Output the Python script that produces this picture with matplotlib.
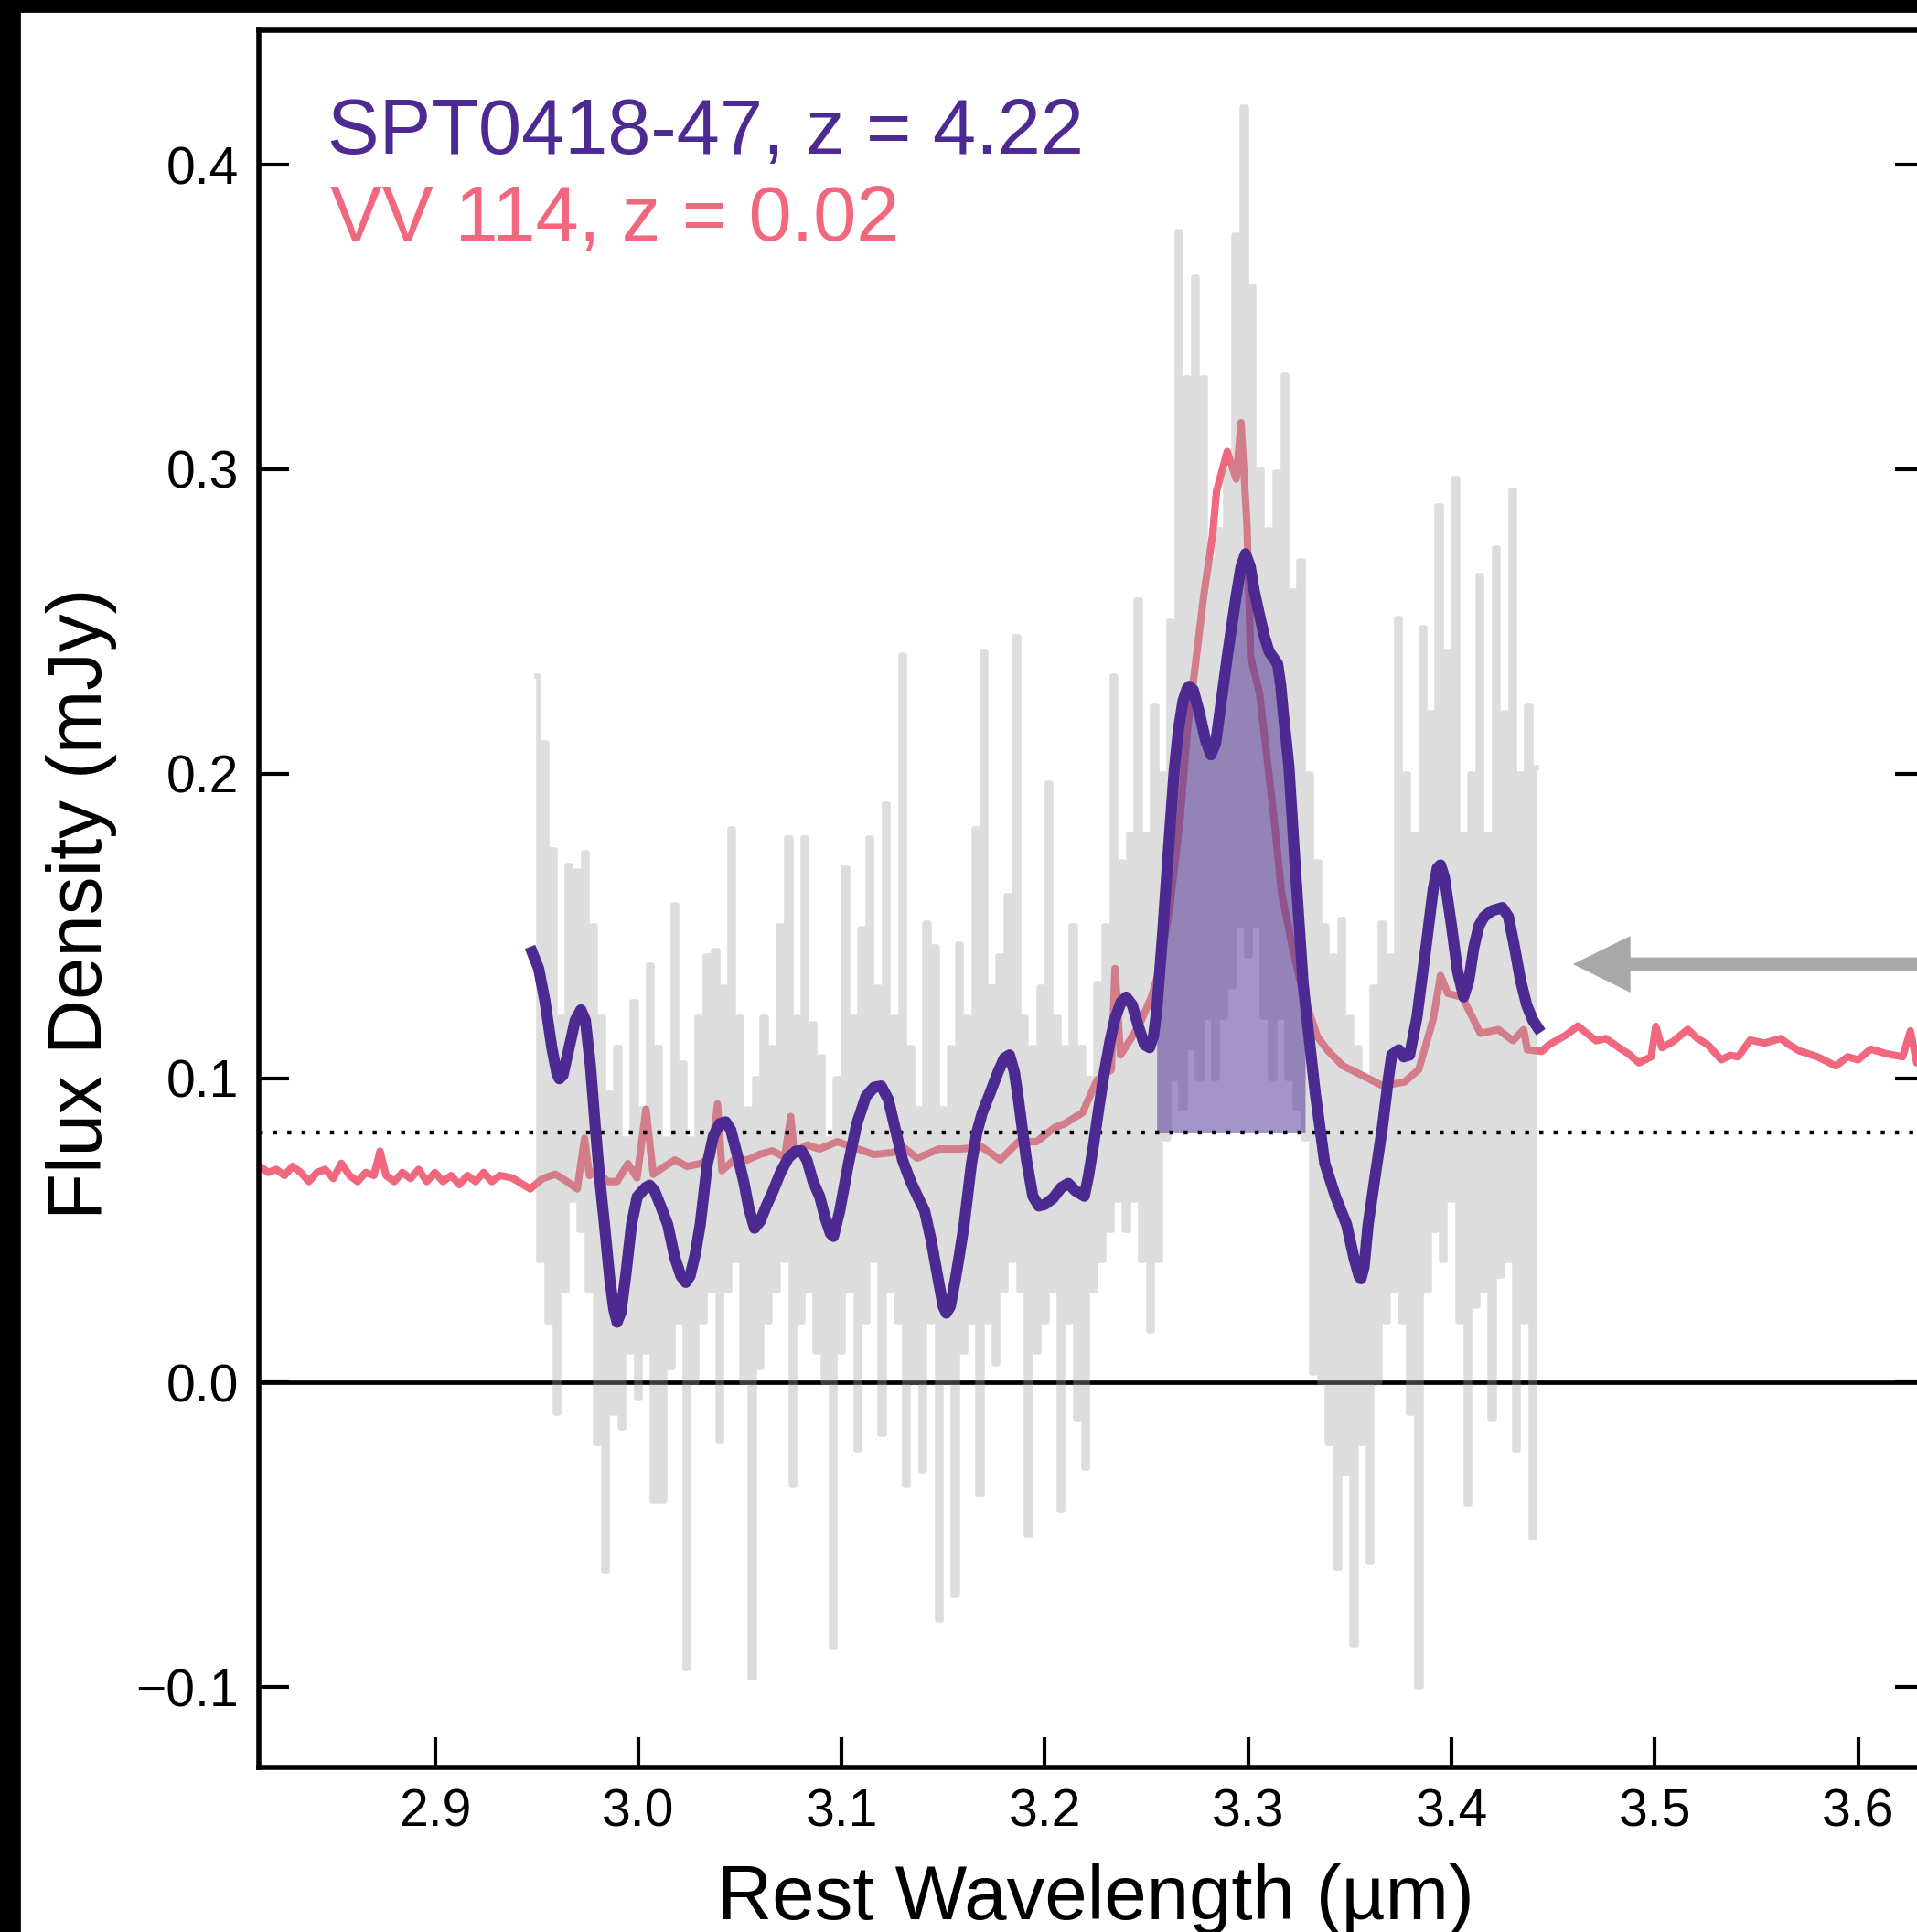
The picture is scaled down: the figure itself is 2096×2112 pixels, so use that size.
import numpy as np
import matplotlib
matplotlib.use("Agg")
import matplotlib.pyplot as plt
from matplotlib.patches import Rectangle

plt.rcParams['font.family'] = ['Liberation Sans', 'DejaVu Sans']

PURPLE = "#4C2A92"
PINK = "#F0677E"

# SPT0418-47 raw spectrum (grey), 0.002 um grid starting at 2.950
gray_flux = [
    0.232, 0.040, 0.210, 0.020, 0.175, -0.010, 0.120, 0.030, 0.170, 0.060,
    0.168, 0.050, 0.174, 0.030, 0.150, -0.020, 0.120, -0.062, 0.095, -0.010,
    0.110, -0.015, 0.080, 0.010, 0.125, -0.005, 0.090, 0.010, 0.137, -0.039,
    0.110, -0.039, 0.080, 0.005, 0.157, 0.020, 0.105, -0.094, 0.080, 0.000,
    0.120, 0.020, 0.140, 0.030, 0.142, -0.019, 0.130, 0.030, 0.182, 0.040,
    0.120, 0.000, 0.090, -0.097, 0.100, 0.005, 0.120, 0.020, 0.110, 0.030,
    0.150, 0.040, 0.179, -0.034, 0.120, 0.020, 0.179, 0.030, 0.118, 0.010,
    0.107, 0.000, 0.080, -0.087, 0.100, 0.010, 0.169, 0.030, 0.120, -0.022,
    0.149, 0.020, 0.179, 0.040, 0.130, -0.017, 0.190, 0.030, 0.120, 0.020,
    0.239, -0.034, 0.110, 0.000, 0.090, -0.029, 0.151, 0.020, 0.143, -0.078,
    0.090, 0.000, 0.110, -0.070, 0.144, 0.010, 0.120, 0.020, 0.182, -0.037,
    0.240, 0.020, 0.130, 0.006, 0.140, 0.030, 0.160, 0.040, 0.245, 0.030,
    0.120, -0.050, 0.110, 0.010, 0.130, 0.020, 0.197, 0.030, 0.120, -0.042,
    0.110, 0.020, 0.150, -0.012, 0.110, -0.028, 0.100, 0.030, 0.131, 0.040,
    0.150, 0.050, 0.232, 0.060, 0.171, 0.050, 0.180, 0.060, 0.257, 0.040,
    0.180, 0.017, 0.222, 0.040, 0.200, 0.080, 0.250, 0.100, 0.378, 0.090,
    0.330, 0.110, 0.363, 0.100, 0.330, 0.120, 0.270, 0.100, 0.280, 0.120,
    0.300, 0.130, 0.377, 0.150, 0.419, 0.140, 0.360, 0.150, 0.300, 0.120,
    0.280, 0.100, 0.299, 0.120, 0.331, 0.100, 0.260, 0.090, 0.270, 0.080,
    0.200, 0.003, 0.171, 0.000, 0.150, -0.020, 0.140, -0.061, 0.152, -0.030,
    0.120, -0.086, 0.110, -0.020, 0.100, -0.059, 0.130, 0.000, 0.151, 0.020,
    0.140, 0.030, 0.251, 0.020, 0.200, -0.010, 0.180, -0.100, 0.248, 0.030,
    0.220, 0.050, 0.288, 0.040, 0.240, 0.060, 0.297, 0.020, 0.180, -0.040,
    0.200, 0.025, 0.265, 0.030, 0.180, -0.012, 0.274, 0.035, 0.220, 0.040,
    0.293, -0.022, 0.200, 0.020, 0.222, -0.051, 0.202,
]
gray_wl = 2.950 + 0.002 * np.arange(len(gray_flux))

# SPT0418-47 smoothed spectrum (purple)
spt_wl = [
    2.9478, 2.9510, 2.9541, 2.9575, 2.9600, 2.9612, 2.9630, 2.9660, 2.9690, 2.9718,
    2.9740, 2.9765, 2.9789, 2.9812, 2.9834, 2.9860, 2.9880, 2.9896, 2.9915, 2.9940,
    2.9967, 2.9995, 3.0035, 3.0056, 3.0080, 3.0110, 3.0145, 3.0180, 3.0210, 3.0234,
    3.0255, 3.0280, 3.0305, 3.0340, 3.0370, 3.0400, 3.0430, 3.0455, 3.0490, 3.0519,
    3.0545, 3.0572, 3.0600, 3.0630, 3.0660, 3.0700, 3.0740, 3.0775, 3.0803, 3.0830,
    3.0860, 3.0892, 3.0920, 3.0945, 3.0960, 3.0990, 3.1034, 3.1075, 3.1120, 3.1160,
    3.1195, 3.1230, 3.1265, 3.1300, 3.1340, 3.1375, 3.1408, 3.1440, 3.1475, 3.1500,
    3.1515, 3.1535, 3.1560, 3.1580, 3.1603, 3.1639, 3.1665, 3.1692, 3.1730, 3.1770,
    3.1800, 3.1826, 3.1850, 3.1870, 3.1888, 3.1910, 3.1941, 3.1970, 3.2000, 3.2040,
    3.2080, 3.2115, 3.2150, 3.2194, 3.2215, 3.2239, 3.2265, 3.2292, 3.2320, 3.2345,
    3.2375, 3.2400, 3.2430, 3.2460, 3.2490, 3.2515, 3.2535, 3.2550, 3.2580, 3.2612,
    3.2635, 3.2657, 3.2680, 3.2700, 3.2710, 3.2730, 3.2760, 3.2790, 3.2817, 3.2840,
    3.2860, 3.2897, 3.2940, 3.2965, 3.2987, 3.3010, 3.3030, 3.3050, 3.3080, 3.3103,
    3.3125, 3.3145, 3.3160, 3.3172, 3.3200, 3.3234, 3.3270, 3.3280, 3.3330, 3.3377,
    3.3430, 3.3484, 3.3520, 3.3545, 3.3555, 3.3570, 3.3590, 3.3625, 3.3660, 3.3690,
    3.3706, 3.3741, 3.3765, 3.3794, 3.3830, 3.3875, 3.3910, 3.3930, 3.3946, 3.3965,
    3.4000, 3.4030, 3.4060, 3.4085, 3.4110, 3.4135, 3.4160, 3.4200, 3.4250, 3.4280,
    3.4310, 3.4340, 3.4370, 3.4400, 3.4424,
]
spt_flux = [
    0.1414, 0.1360, 0.1254, 0.1100, 0.1015, 0.0998, 0.1010, 0.1100, 0.1190, 0.1224,
    0.1190, 0.1040, 0.0838, 0.0660, 0.0519, 0.0340, 0.0240, 0.0198, 0.0230, 0.0360,
    0.0519, 0.0610, 0.0640, 0.0648, 0.0630, 0.0580, 0.0519, 0.0410, 0.0350, 0.0329,
    0.0350, 0.0420, 0.0519, 0.0719, 0.0810, 0.0850, 0.0856, 0.0830, 0.0740, 0.0660,
    0.0570, 0.0507, 0.0530, 0.0580, 0.0624, 0.0690, 0.0740, 0.0760, 0.0761, 0.0730,
    0.0660, 0.0612, 0.0540, 0.0490, 0.0480, 0.0560, 0.0719, 0.0850, 0.0940, 0.0970,
    0.0974, 0.0930, 0.0830, 0.0731, 0.0660, 0.0610, 0.0565, 0.0470, 0.0340, 0.0250,
    0.0228, 0.0250, 0.0340, 0.0420, 0.0519, 0.0719, 0.0820, 0.0886, 0.0950, 0.1020,
    0.1065, 0.1076, 0.1020, 0.0930, 0.0838, 0.0730, 0.0612, 0.0580, 0.0585, 0.0605,
    0.0640, 0.0654, 0.0630, 0.0612, 0.0680, 0.0779, 0.0900, 0.1017, 0.1120, 0.1195,
    0.1250, 0.1266, 0.1240, 0.1170, 0.1110, 0.1100, 0.1140, 0.1220, 0.1480, 0.1789,
    0.2000, 0.2145, 0.2240, 0.2280, 0.2287, 0.2275, 0.2200, 0.2110, 0.2062, 0.2100,
    0.2200, 0.2383, 0.2580, 0.2680, 0.2722, 0.2680, 0.2600, 0.2538, 0.2450, 0.2400,
    0.2380, 0.2360, 0.2290, 0.2204, 0.2026, 0.1670, 0.1313, 0.1250, 0.0950, 0.0719,
    0.0610, 0.0519, 0.0410, 0.0350, 0.0341, 0.0380, 0.0519, 0.0680, 0.0838, 0.1000,
    0.1076, 0.1093, 0.1070, 0.1076, 0.1200, 0.1433, 0.1620, 0.1690, 0.1700, 0.1660,
    0.1500, 0.1350, 0.1267, 0.1320, 0.1430, 0.1500, 0.1530, 0.1550, 0.1560, 0.1530,
    0.1430, 0.1320, 0.1240, 0.1190, 0.1166,
]

# VV 114 template (pink)
vv_wl = [
    2.814, 2.818, 2.822, 2.826, 2.830, 2.834, 2.838, 2.842, 2.846, 2.850,
    2.854, 2.858, 2.862, 2.866, 2.870, 2.873, 2.876, 2.880, 2.884, 2.888,
    2.892, 2.896, 2.900, 2.904, 2.908, 2.912, 2.916, 2.920, 2.924, 2.928,
    2.932, 2.938, 2.9469, 2.953, 2.9593, 2.965, 2.970, 2.9736, 2.976, 2.9789,
    2.985, 2.9896, 2.9949, 2.9994, 3.0038, 3.0074, 3.013, 3.0181, 3.024, 3.0305,
    3.036, 3.039, 3.0412, 3.047, 3.0536, 3.060, 3.066, 3.072, 3.075, 3.0767,
    3.083, 3.0892, 3.098, 3.107, 3.1159, 3.1247, 3.131, 3.1372, 3.1479, 3.1585,
    3.1692, 3.1781, 3.187, 3.1959, 3.2048, 3.2097, 3.2155, 3.2185, 3.2256, 3.2327,
    3.2345, 3.2372, 3.2417, 3.247, 3.2524, 3.256, 3.2612, 3.2665, 3.2701, 3.2745,
    3.2781, 3.2825, 3.2844, 3.2897, 3.2941, 3.2965, 3.2994, 3.3012, 3.3056, 3.3128,
    3.3164, 3.3217, 3.327, 3.3341, 3.3395, 3.3466, 3.3537, 3.3661, 3.3768, 3.3839,
    3.391, 3.3946, 3.3982, 3.4053, 3.4142, 3.4231, 3.4302, 3.4355, 3.4373, 3.4444,
    3.4480, 3.4515, 3.4560, 3.4622, 3.4660, 3.4711, 3.4760, 3.4824, 3.4870, 3.4922,
    3.4982, 3.5005, 3.5035, 3.5090, 3.5162, 3.5210, 3.526, 3.5327, 3.5370, 3.541,
    3.5469, 3.5540, 3.5619, 3.5660, 3.5709, 3.5800, 3.589, 3.5949, 3.6000, 3.6062,
    3.6140, 3.6219, 3.6257, 3.6288, 3.633,
]
vv_flux = [
    0.071, 0.069, 0.070, 0.068, 0.071, 0.069, 0.066, 0.069, 0.070, 0.067,
    0.072, 0.068, 0.066, 0.069, 0.068, 0.076, 0.068, 0.066, 0.069, 0.067,
    0.070, 0.066, 0.069, 0.066, 0.068, 0.065, 0.068, 0.066, 0.069, 0.066,
    0.068, 0.0672, 0.0636, 0.067, 0.0684, 0.066, 0.0636, 0.0802, 0.068, 0.0696,
    0.066, 0.066, 0.0719, 0.0672, 0.0898, 0.0684, 0.071, 0.0731, 0.071, 0.0719,
    0.074, 0.0915, 0.0696, 0.073, 0.0731, 0.075, 0.0761, 0.074, 0.0874, 0.0755,
    0.078, 0.0767, 0.0791, 0.077, 0.0749, 0.0755, 0.077, 0.0737, 0.0767, 0.0767,
    0.0773, 0.0731, 0.0791, 0.0791, 0.0838, 0.085, 0.0874, 0.0886, 0.0993, 0.1028,
    0.136, 0.1076, 0.1123, 0.1183, 0.1266, 0.1349, 0.155, 0.1848, 0.2145, 0.2383,
    0.2583, 0.2785, 0.2927, 0.3058, 0.2968, 0.3153, 0.282, 0.2383, 0.2264, 0.1848,
    0.161, 0.1432, 0.1277, 0.1135, 0.1088, 0.104, 0.1017, 0.0975, 0.0987, 0.1028,
    0.1194, 0.1337, 0.1278, 0.1266, 0.1147, 0.1159, 0.1123, 0.1159, 0.1093, 0.1088,
    0.1110, 0.1123, 0.1140, 0.1171, 0.1150, 0.1123, 0.1130, 0.110, 0.1080, 0.105,
    0.107, 0.117, 0.110, 0.1120, 0.116, 0.1130, 0.111, 0.106, 0.1075, 0.107,
    0.1125, 0.1115, 0.113, 0.1110, 0.109, 0.1070, 0.104, 0.107, 0.1060, 0.1095,
    0.1080, 0.107, 0.1155, 0.105, 0.107,
]

continuum = 0.082
band_lo, band_hi = 3.255, 3.328
arrow_y, arrow_tip = 0.1374, 3.4597

fig = plt.figure(figsize=(10.48, 10.56), dpi=200)
ax = fig.add_axes([283 / 2096, 1 - 1932 / 2112, (2105 - 283) / 2096, (1932 - 33) / 2112])

ax.axhline(0, color='black', lw=1.7, zorder=1)
ax.plot(vv_wl, vv_flux, color=PINK, lw=2.9, zorder=2)
ax.plot(gray_wl, gray_flux, color='#A3A3A3', alpha=0.37, lw=2.0, drawstyle='steps-mid', zorder=3)
spt_wl_a = np.array(spt_wl)
spt_flux_a = np.array(spt_flux)
band = (spt_wl_a >= band_lo) & (spt_wl_a <= band_hi)
ax.fill_between(spt_wl_a[band], spt_flux_a[band], continuum, color=PURPLE, alpha=0.5, lw=0, zorder=4)
ax.axhline(continuum, color='black', lw=1.6, ls=(0, (1, 2.5)), zorder=5)
ax.plot(spt_wl, spt_flux, color=PURPLE, lw=4.4, solid_joinstyle='round', zorder=6)

ax.arrow(3.72, arrow_y, arrow_tip - 3.72, 0, width=0.0045, head_width=0.0186,
         head_length=0.0283, length_includes_head=True, color='#A8A8A8', lw=0, zorder=6)

ax.set_xlim(2.8134, 3.633)
ax.set_ylim(-0.1264, 0.4442)
ax.set_xticks([2.9, 3.0, 3.1, 3.2, 3.3, 3.4, 3.5, 3.6])
ax.set_yticks([-0.1, 0.0, 0.1, 0.2, 0.3, 0.4])
ax.tick_params(direction='in', length=12, width=1.5, labelsize=20.5, pad=8)
ax.tick_params(axis='y', right=True)
for sp in ax.spines.values():
    sp.set_linewidth(2.0)

ax.set_xlabel('Rest Wavelength (µm)', fontsize=30)
ax.xaxis.set_label_coords(0.502, -0.0874)
ax.xaxis.label.set_verticalalignment('baseline')
ax.set_ylabel('Flux Density (mJy)', fontsize=30)
ax.yaxis.set_label_coords(-0.0851, 0.4974)

fig.text(358 / 2096, 1 - 168 / 2112, 'SPT0418-47, z = 4.22', color=PURPLE, fontsize=30.5,
         ha='left', va='baseline')
fig.text(361 / 2096, 1 - 263 / 2112, 'VV 114, z = 0.02', color=PINK, fontsize=30.5,
         ha='left', va='baseline')

# black frame on the left and top edges
fig.add_artist(Rectangle((0, 0), 21 / 2096, 1, transform=fig.transFigure, color='black', zorder=10))
fig.add_artist(Rectangle((0, 1 - 12 / 2112), 1, 12 / 2112, transform=fig.transFigure, color='black', zorder=10))

fig.savefig('out.png', dpi=200)
